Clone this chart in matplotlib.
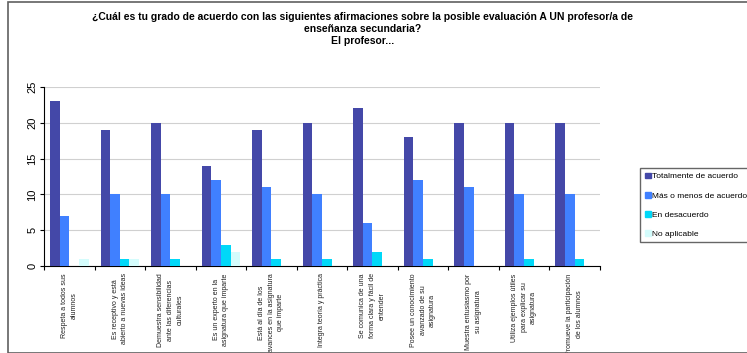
import matplotlib.pyplot as plt
import matplotlib.patches as mpatches
import numpy as np

categorias = [
    "Respeta a todos sus\nalumnos",
    "Es receptivo y está\nabierto a nuevas ideas",
    "Demuestra sensibilidad\nante las diferencias\nculturales",
    "Es un experto en la\nasignatura que imparte",
    "Está al día de los\navances en la asignatura\nque imparte",
    "Integra teoría y práctica",
    "Se comunica de una\nforma clara y fácil de\nentender",
    "Posee un conocimiento\navanzado de su\nasignatura",
    "Muestra entusiasmo por\nsu asignatura",
    "Utiliza ejemplos útiles\npara explicar su\nasignatura",
    "Promueve la participación\nde los alumnos",
]
totalmente = [23, 19, 20, 14, 19, 20, 22, 18, 20, 20, 20]
mas_menos = [7, 10, 10, 12, 11, 10, 6, 12, 11, 10, 10]
desacuerdo = [0, 1, 1, 3, 1, 1, 2, 1, 0, 1, 1]
no_aplicable = [1, 1, 0, 2, 0, 0, 0, 0, 0, 0, 0]

series = ["Totalmente de acuerdo", "Más o menos de acuerdo", "En desacuerdo", "No aplicable"]
colores = ["#4448a8", "#4080ff", "#00d8f8", "#d4fcfc"]

plt.rcParams['font.family'] = ['Liberation Sans', 'DejaVu Sans']

fig = plt.figure(figsize=(7.47, 3.53), dpi=100)
ax = fig.add_axes([0.059, 0.246, 0.744, 0.508])

x = np.arange(len(categorias))
w = 0.19
datos = [totalmente, mas_menos, desacuerdo, no_aplicable]
for i, (vals, col, nom) in enumerate(zip(datos, colores, series)):
    ax.bar(x + (i - 1.5) * w, vals, w, color=col, label=nom, zorder=3)

ax.set_xlim(-0.5, len(categorias) - 0.5)
ax.set_ylim(0, 25)
ax.set_yticks([0, 5, 10, 15, 20, 25])
ax.set_yticklabels(["0", "5", "10", "15", "20", "25"], rotation=90, va='center', fontsize=8)
ax.yaxis.grid(True, color="#d0d0d0", linewidth=0.8, zorder=0)
ax.set_axisbelow(True)

# ticks between the groups, labels drawn by hand so they can wrap
ax.set_xticks(np.arange(len(categorias) + 1) - 0.5)
ax.set_xticklabels([])
ax.tick_params(axis='x', length=3, direction='out')
ax.tick_params(axis='y', length=3, direction='out', pad=2)
for xi, lab in zip(x, categorias):
    ax.text(xi, -1.0, lab, rotation=90, ha='center', va='top', fontsize=5,
            multialignment='center', color="#202020", linespacing=1.5)

for s in ['top', 'right']:
    ax.spines[s].set_visible(False)

fig.text(0.485, 0.965, "¿Cuál es tu grado de acuerdo con las siguientes afirmaciones sobre la posible evaluación A UN profesor/a de\n"
         "enseñanza secundaria?\nEl profesor...", ha='center', va='top', fontsize=7.5, fontweight='bold',
         linespacing=1.2)

handles = [mpatches.Patch(color=c) for c in colores]
leg = fig.legend(handles, series, loc='upper left', bbox_to_anchor=(0.857, 0.524),
                 fontsize=6, frameon=True, fancybox=False, handlelength=0.7, handleheight=0.7,
                 handletextpad=0.2, borderpad=0.55, labelspacing=1.35, borderaxespad=0)
leg.get_frame().set_edgecolor("#404040")
leg.get_frame().set_linewidth(1.0)

fig.patches.append(mpatches.Rectangle((8 / 747, 0), 1, 1 - 2 / 353, transform=fig.transFigure,
                                      fill=False, edgecolor="#606060", linewidth=1.2))

fig.savefig("out.png", dpi=100)
